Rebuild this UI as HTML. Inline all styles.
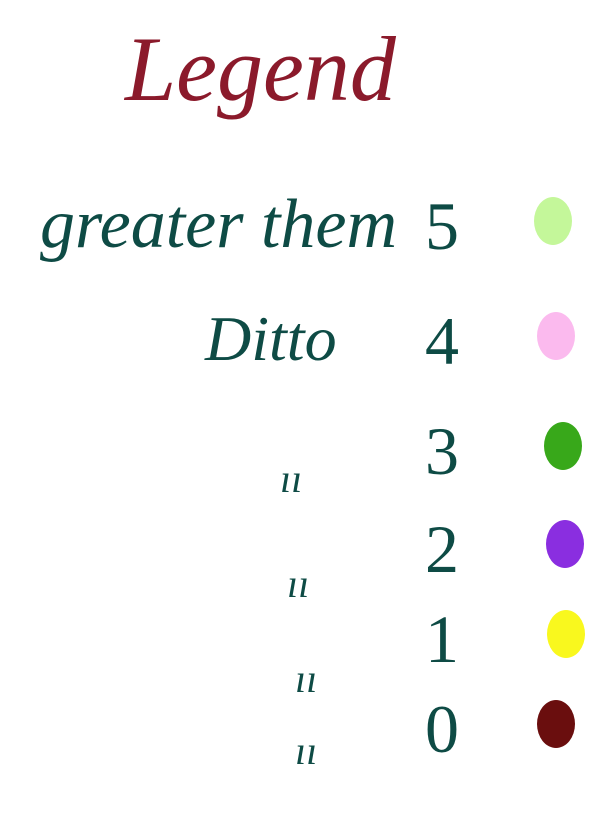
<!DOCTYPE html>
<html><head><meta charset="utf-8"><style>
html,body{margin:0;padding:0;background:#fff;width:599px;height:821px;overflow:hidden}
svg{display:block}
</style></head><body>
<svg id="chart" width="599" height="821">
<text x="125" y="100" font-family="Liberation Serif, serif" font-style="italic" font-size="92" fill="#8b1a2b">Legend</text>
</svg>
<script>
const labels = ["greater them", "Ditto", "\u0131\u0131", "\u0131\u0131", "\u0131\u0131", "\u0131\u0131"];
const values = [5, 4, 3, 2, 1, 0];
const colors = ["#c4f79a", "#fbbaee", "#38a81a", "#8a2ee0", "#f9f81e", "#6a0e0e"];
const svg = document.getElementById('chart');
const NS = 'http://www.w3.org/2000/svg';
const rowY = [225, 340, 450, 548, 638, 728];
const labelX = [40, 205, 280, 287, 295, 295];
const labelY = [247, 360, 492, 597, 692, 764];
const labelSize = [70, 64, 40, 40, 40, 40];
const swatchX = [553, 556, 563, 565, 566, 556];
for (let i = 0; i < values.length; i++) {
  const g = document.createElementNS(NS, 'g');
  
  
  const t = document.createElementNS(NS, 'text');
  
  
  t.setAttribute('x', labelX[i]);
  t.setAttribute('y', labelY[i]);
  t.setAttribute('font-family', 'Liberation Serif, serif');
  t.setAttribute('font-style', 'italic');
  t.setAttribute('font-size', labelSize[i]);
  t.setAttribute('fill', '#0e4b45');
  t.textContent = labels[i];
  g.appendChild(t);
  const v = document.createElementNS(NS, 'text');
  
  
  v.setAttribute('x', 425);
  v.setAttribute('y', rowY[i] + 24);
  v.setAttribute('font-family', 'Liberation Serif, serif');
  v.setAttribute('font-size', 68);
  v.setAttribute('fill', '#0e4b45');
  v.textContent = values[i];
  g.appendChild(v);
  const e = document.createElementNS(NS, 'ellipse');
  
  
  e.setAttribute('cx', swatchX[i]);
  e.setAttribute('cy', rowY[i] - 4);
  e.setAttribute('rx', 19);
  e.setAttribute('ry', 24);
  e.setAttribute('fill', colors[i]);
  g.appendChild(e);
  svg.appendChild(g);
}
</script>
</body></html>
